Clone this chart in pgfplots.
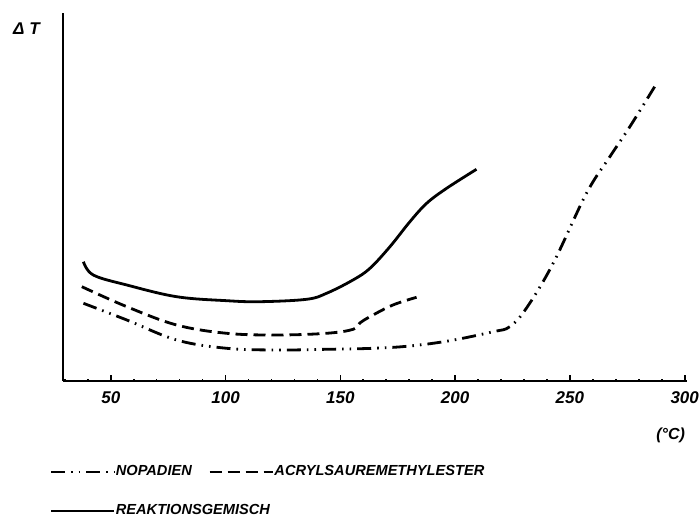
\documentclass[border=0pt]{standalone}
\usepackage{fontspec}
\setmainfont{Liberation Sans}
\usepackage{pgfplots}
\pgfplotsset{compat=1.18}
\begin{document}
\begin{tikzpicture}
\useasboundingbox (-31.5pt,-69pt) rectangle (318.5pt,190.5pt);
\begin{axis}[
  at={(0,0)}, anchor=south west,
  scale only axis, width=312pt, height=184pt,
  xmin=29.2, xmax=301, ymin=0, ymax=368,
  axis x line*=bottom, axis y line*=left,
  axis line style={line width=1.2pt},
  ytick=\empty,
  xtick={50,100,...,300},
  minor xtick={30,40,...,300},
  tick align=inside,
  major tick length=3pt, minor tick length=1.2pt,
  every tick/.style={black, line width=0.8pt},
  /pgf/number format/assume math mode=true,
  ticklabel style={font=\fontsize{8.5}{10}\selectfont\bfseries\itshape},
  xticklabel style={yshift=-2pt},
  xlabel={(°C)},
  every axis x label/.style={at={(rel axis cs:1.008,-0.147)}, anchor=east, font=\fontsize{8}{10}\selectfont\bfseries\itshape},
  ylabel={Δ T},
  every axis y label/.style={at={(rel axis cs:-0.0585,0.957)}, anchor=center, font=\fontsize{8.5}{10}\selectfont\bfseries\itshape},
  clip=false,
  legend columns=2,
  legend cell align=left,
  legend style={at={(rel axis cs:-0.021,-0.225)}, anchor=north west, draw=none, fill=none,
    font=\fontsize{7.3}{9}\selectfont\bfseries\itshape, inner sep=0pt, row sep=12pt,
    nodes={inner sep=0.5pt}},
  /tikz/every even column/.append style={column sep=8pt},
  legend image code/.code={\draw[#1, line width=0.8pt] (0pt,0pt) -- (31.5pt,0pt);},
]
\addplot[black, line width=1.4pt, smooth, tension=0.6,
  dash pattern=on 7pt off 3pt on 0.8pt off 3pt on 0.8pt off 3pt] coordinates {
  (38.1,77.7) (57,61) (78.7,41) (100.5,32.7) (122.3,31) (144,31.7) (164.3,32.7)
  (180.3,35) (197.7,40.3) (216.6,49.3) (223.8,54.3) (231.1,73) (242.7,117.7)
  (257.2,187.7) (267.4,224.3) (276.1,254.3) (286.9,294.3)};
\addlegendentry{NOPADIEN}
\addplot[black, line width=1.4pt, smooth, tension=0.6,
  dash pattern=on 6pt off 3pt] coordinates {
  (37.4,94.3) (57,74.3) (78.7,56) (100.5,47.7) (122.3,46) (144,47.7) (155.6,51.7)
  (158.5,58) (162.9,64.3) (172.9,76) (183.2,83.7)};
\addlegendentry{ACRYLSAUREMETHYLESTER}
\addplot[black, line width=1.4pt, smooth, tension=0.6] coordinates {
  (38.1,119.3) (42.4,106) (57,96) (78.7,84.3) (100.5,80.3) (115,79.3) (135.3,81.7)
  (144,87.7) (155.5,101) (162.9,112.7) (171.6,134.3) (180.3,159.3) (187.6,177.7)
  (196.3,192.7) (209.3,211.7)};
\addlegendentry{\rlap{REAKTIONSGEMISCH}}
\end{axis}
\end{tikzpicture}
\end{document}
